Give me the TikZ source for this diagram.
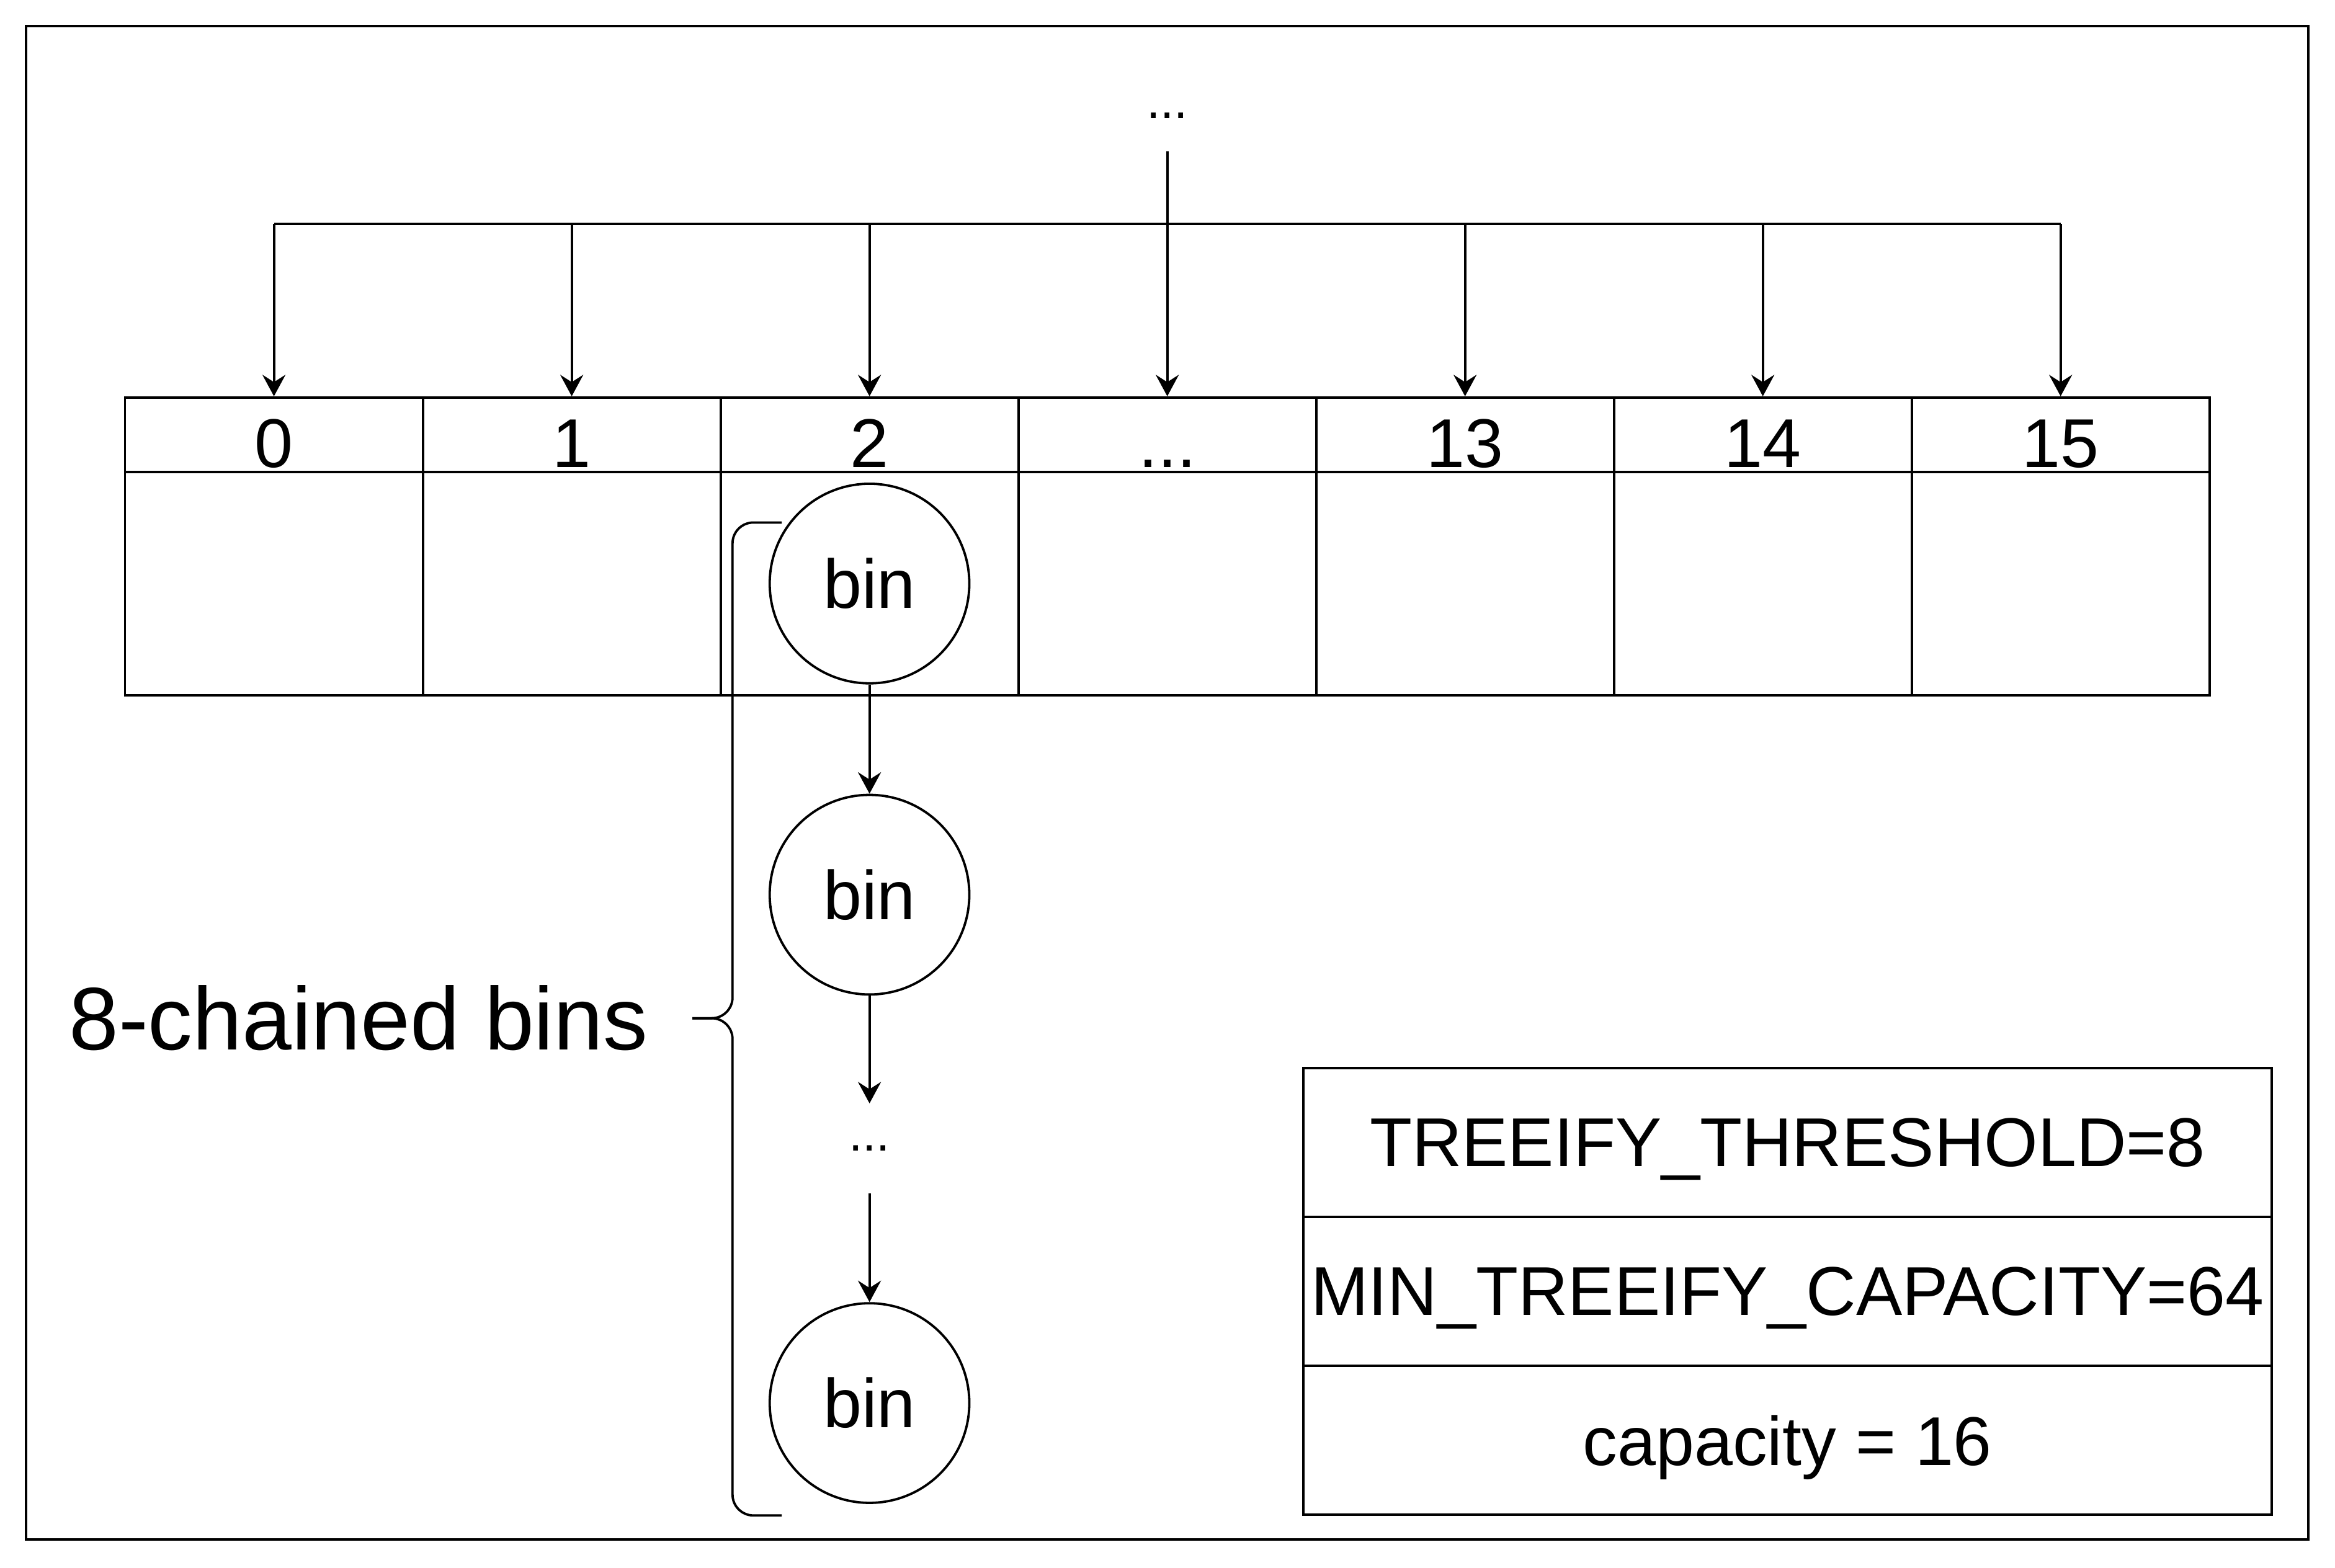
\documentclass[tikz,border=0pt]{standalone}
\usepackage{fontspec}
\setmainfont{Liberation Sans}
\usetikzlibrary{arrows.meta,positioning}
\newcommand\celldots{...}

\begin{document}
\begin{tikzpicture}
  [x=0.01cm,y=-0.01cm,line width=0.45pt,
   every node/.style={font=\fontsize{13.2}{15}\selectfont},
   hcell/.style={draw,minimum width=2cm,minimum height=0.5cm,inner sep=0pt,text height=0.44cm,text depth=0pt},
   bcell/.style={draw,minimum width=2cm,minimum height=1.5cm,inner sep=0pt},
   bin/.style={circle,draw,fill=white,minimum size=1.34cm,inner sep=0pt},
   row/.style={draw,minimum width=6.5cm,minimum height=1cm,inner sep=0pt,text depth=0pt},
   dots/.style={inner sep=0pt,font=\fontsize{9.5}{11}\selectfont},
   arr/.style={-{Stealth[length=4.1pt,width=4.4pt,inset=1.4pt]}}]
  \useasboundingbox (0,0) rectangle (1568.3,1053.3);
  \draw (17.5,17.5) rectangle (1550.5,1034);

  % table
  \foreach \i/\t in {0/0,1/1,2/2,3/\celldots,4/13,5/14,6/15} {
    \node[hcell] (h\i) at (184+200*\i,292) {\t};
    \node[bcell] (c\i) at (184+200*\i,392) {};
  }

  \node[dots,minimum height=0.47cm] (topdots) at (784,77.5) {...};
  \coordinate (bus) at (0,150.5);
  \draw (h0 |- bus) -- (h6 |- bus);
  \foreach \i in {0,1,2,4,5,6}
    \draw[arr] (h\i |- bus) -- (h\i);
  \draw[arr] (topdots) -- (h3);

  % chain
  \node[bin] (b1) at (584,392) {bin};
  \node[bin] (b2) at (584,601) {bin};
  \node[dots,minimum height=0.59cm] (b3) at (584,771.5) {...};
  \node[bin] (b4) at (584,942.5) {bin};
  \foreach \from/\to in {b1/b2,b2/b3,b3/b4}
    \draw[arr] (\from) -- (\to);

  % brace
  \node[anchor=east,inner sep=0pt,font=\fontsize{17}{20}\selectfont] (chainlbl) at (436,684) {8-chained bins};
  \draw[rounded corners=0.14cm] (525,351) -- (492,351) -- (492,684) -- (465,684);
  \draw[rounded corners=0.14cm] (465,684) -- (492,684) -- (492,1018) -- (525,1018);

  % constants
  \node[row] (r1) at (1200.5,767.5) {TREEIFY\_THRESHOLD=8};
  \node[row] (r2) at (1200.5,867.5) {MIN\_TREEIFY\_CAPACITY=64};
  \node[row] (r3) at (1200.5,967.5) {capacity = 16};

\end{tikzpicture}
\end{document}
